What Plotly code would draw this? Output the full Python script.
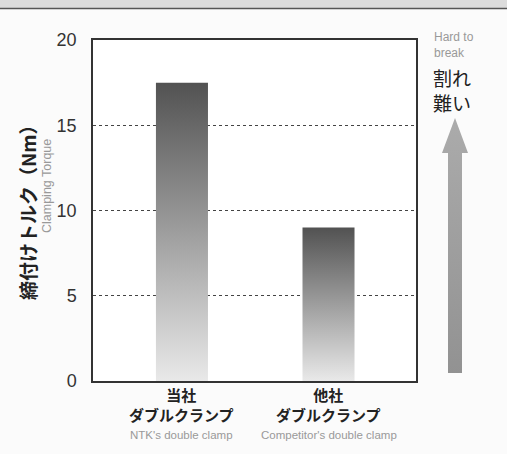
import plotly.graph_objects as go

# ---- data ----
categories_jp = ["当社", "他社"]
categories_sub = ["ダブルクランプ", "ダブルクランプ"]
categories_en = ["NTK's double clamp", "Competitor's double clamp"]
torque_values = [17.5, 9.0]
y_ticks = [0, 5, 10, 15, 20]
y_title = "締付けトルク（Nm）"
y_subtitle = "Clamping Torque"
arrow_label_en = "Hard to<br>break"
arrow_label_jp = "割れ<br>難い"

# ---- layout constants ----
W, H = 507, 454
ML, MR, MT, MB = 93, 0, 40, 73
PW = W - ML - MR          # paper width in px
PH = H - MT - MB          # paper height in px
PLOT_RIGHT_PX = 416
XDOM = (PLOT_RIGHT_PX - ML) / PW
BAR_W = 0.355
CJK = "Noto Sans CJK JP"
NUM = "Liberation Sans Narrow, Liberation Sans, Arial"

def px_x(p):
    return (p - ML) / PW

def px_y(p):
    return (H - MB - p) / PH

fig = go.Figure()

# gradient bars
for i, v in enumerate(torque_values):
    x0, x1 = i - BAR_W / 2, i + BAR_W / 2
    fig.add_trace(go.Scatter(
        x=[x0, x0, x1, x1, x0], y=[0, v, v, 0, 0],
        mode="lines", line=dict(width=0), fill="toself",
        fillgradient=dict(type="vertical",
                          colorscale=[[0, "#e9e9e9"], [1, "#525252"]]),
        hoverinfo="skip", showlegend=False, xaxis="x", yaxis="y"))

# decorative arrow (own axes in px units to the right of plot)
ax2_w = W - PLOT_RIGHT_PX   # 91 px
ax2_h = PH
tip, head_base, bottom = H - MB - 118, H - MB - 153, H - MB - 373
hx0, hx1 = 442 - PLOT_RIGHT_PX, 468 - PLOT_RIGHT_PX
sx0, sx1 = 448 - PLOT_RIGHT_PX, 462 - PLOT_RIGHT_PX
hc = (hx0 + hx1) / 2
fig.add_trace(go.Scatter(
    x=[sx0, sx0, hx0, hc, hx1, sx1, sx1, sx0],
    y=[bottom, head_base, head_base, tip, head_base, head_base, bottom, bottom],
    mode="lines", line=dict(width=0), fill="toself",
    fillgradient=dict(type="vertical", colorscale=[[0, "#929292"], [1, "#ababab"]]),
    hoverinfo="skip", showlegend=False, xaxis="x2", yaxis="y2"))

fig.update_layout(
    width=W, height=H,
    margin=dict(l=ML, r=MR, t=MT, b=MB),
    paper_bgcolor="#fbfbfb", plot_bgcolor="rgba(0,0,0,0)",
    showlegend=False,
    xaxis=dict(domain=[0, XDOM], range=[-0.607, 1.597], showticklabels=False,
               showgrid=False, zeroline=False, showline=True, mirror=True,
               linecolor="#333333", linewidth=1.5, fixedrange=True, anchor="y"),
    yaxis=dict(range=[0, 20], tickvals=y_ticks, showgrid=True,
               gridcolor="#444444", griddash="3px,3px", gridwidth=1,
               zeroline=False, showline=True, mirror=True, linecolor="#333333",
               linewidth=1.5, ticks="", ticklabelstandoff=11,
               tickfont=dict(family=NUM, size=18, color="#333333"), anchor="x"),
    xaxis2=dict(domain=[XDOM, 1], range=[0, ax2_w], visible=False, anchor="y2"),
    yaxis2=dict(domain=[0, 1], range=[0, ax2_h], visible=False, anchor="x2"),
    shapes=[
        dict(type="rect", xref="x domain", yref="y domain", x0=0, x1=1, y0=0, y1=1,
             fillcolor="white", line=dict(width=0), layer="below"),
        dict(type="rect", xref="paper", yref="paper", x0=px_x(-5), x1=px_x(W + 5),
             y0=px_y(8), y1=px_y(-5), fillcolor="#dcdcdc", line=dict(width=0)),
        dict(type="line", xref="paper", yref="paper", x0=px_x(-5), x1=px_x(W + 5),
             y0=px_y(8.5), y1=px_y(8.5), line=dict(color="#555555", width=1.5)),
    ],
)

ann = []
for i in range(len(torque_values)):
    ann.append(dict(x=i, y=px_y(404.5), xref="x", yref="paper",
                    text=f"<b>{categories_jp[i]}<br>{categories_sub[i]}</b>",
                    showarrow=False, font=dict(family=CJK, size=15, color="#222222"),
                    xanchor="center", yanchor="middle", align="center"))
    ann.append(dict(x=i, y=px_y(435), xref="x", yref="paper", text=categories_en[i],
                    showarrow=False, font=dict(family=NUM, size=11.5, color="#999999"),
                    xanchor="center", yanchor="middle"))

ann.append(dict(x=px_x(27), y=px_y(208), xref="paper", yref="paper",
                text=f"<b>{y_title}</b>", textangle=-90, showarrow=False,
                font=dict(family=CJK, size=19, color="#222222"),
                xanchor="center", yanchor="middle"))
ann.append(dict(x=px_x(47), y=px_y(186), xref="paper", yref="paper",
                text=y_subtitle, textangle=-90, showarrow=False,
                font=dict(family=NUM, size=12.5, color="#999999"),
                xanchor="center", yanchor="middle"))
ann.append(dict(x=px_x(432), y=px_y(28), xref="paper", yref="paper",
                text=arrow_label_en, showarrow=False, align="left",
                font=dict(family=NUM, size=12, color="#999999"),
                xanchor="left", yanchor="top"))
ann.append(dict(x=px_x(431), y=px_y(62), xref="paper", yref="paper",
                text=arrow_label_jp, showarrow=False, align="left",
                font=dict(family=CJK, size=19, color="#222222"),
                xanchor="left", yanchor="top"))
fig.update_layout(annotations=ann)

fig.write_html("out.html")
